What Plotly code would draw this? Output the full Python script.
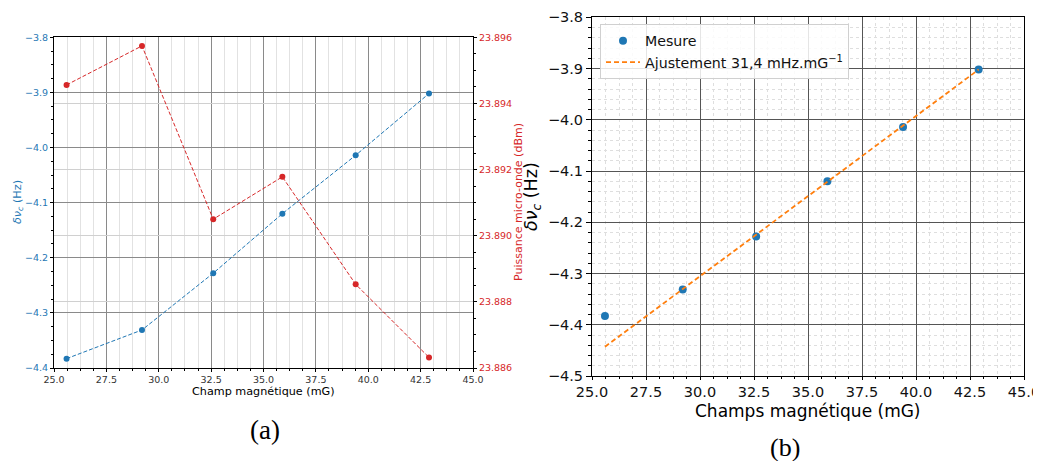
import plotly.graph_objects as go

# ---- data ----
champ = [25.6, 29.2, 32.6, 35.9, 39.4, 42.9]            # mG
delta_nu = [-4.383, -4.331, -4.228, -4.120, -4.014, -3.902]  # Hz
puissance = [23.89456, 23.89574, 23.89050, 23.89178, 23.88853, 23.88632]  # dBm
fit_x = [25.6, 42.9]
fit_y = [-4.443, -3.902]

W, H = 1041, 461
OFF = 8  # page body margin offset
def fx(px): return (px - OFF) / W
def fy(py): return 1 - (py - OFF) / H

BLUE = "#1f77b4"
RED = "#d62728"
ORANGE = "#ff7f0e"
FONT = "DejaVu Sans"

fig = go.Figure()

# left panel
fig.add_trace(go.Scatter(x=champ, y=delta_nu, mode="lines+markers",
                         line=dict(color=BLUE, width=1, dash="4px,2px"),
                         marker=dict(color=BLUE, size=6), showlegend=False,
                         xaxis="x", yaxis="y"))
fig.add_trace(go.Scatter(x=champ, y=puissance, mode="lines+markers",
                         line=dict(color=RED, width=1, dash="4px,2px"),
                         marker=dict(color=RED, size=6), showlegend=False,
                         xaxis="x", yaxis="y2"))

# right panel
fig.add_trace(go.Scatter(x=champ, y=delta_nu, mode="markers", name="Mesure",
                         marker=dict(color=BLUE, size=8),
                         xaxis="x2", yaxis="y3"))
fig.add_trace(go.Scatter(x=fit_x, y=fit_y, mode="lines",
                         name="Ajustement 31,4 mHz.mG<sup>−1</sup>",
                         line=dict(color=ORANGE, width=1.8, dash="5px,3px"),
                         xaxis="x2", yaxis="y3"))

common_left = dict(showline=True, linecolor="black", linewidth=1, zeroline=False,
                   ticks="outside", ticklen=3, tickcolor="black", automargin=False)
common_right = dict(showline=True, linecolor="black", linewidth=1, zeroline=False,
                    ticks="outside", tickcolor="black", automargin=False,
                    showgrid=True, gridcolor="#555555", gridwidth=1,
                    tickfont=dict(size=14.5, color="#111"), mirror=True)

def ann(text, x, y, size, color="black", angle=0, family=FONT):
    return dict(text=text, x=fx(x), y=fy(y), xref="paper", yref="paper",
                xanchor="center", yanchor="middle", textangle=angle,
                showarrow=False, font=dict(family=family, size=size, color=color))

fig.update_layout(
    width=W, height=H,
    margin=dict(l=0, r=0, t=0, b=0, autoexpand=False),
    paper_bgcolor="white", plot_bgcolor="white",
    font=dict(family=FONT, color="black"),
    xaxis=dict(domain=[fx(54), fx(473)], range=[25, 45], dtick=2.5, tick0=25,
               tickformat=".1f", anchor="y", mirror=True,
               showgrid=True, gridcolor="#8a8a8a", gridwidth=1,
               tickfont=dict(size=9.5, color="#333"),
               minor=dict(dtick=0.625, tick0=25, showgrid=True, gridcolor="#e2e2e2",
                          ticks="outside", ticklen=2, tickcolor="black"),
               **common_left),
    yaxis=dict(domain=[fy(368), fy(37.3)], range=[-4.4, -3.8], dtick=0.1,
               tickformat=".1f", anchor="x", mirror=True,
               showgrid=True, gridcolor="#8a8a8a", gridwidth=1,
               tickfont=dict(size=9.5, color=BLUE),
               minor=dict(dtick=0.025, ticks="outside", ticklen=2, tickcolor="black"),
               **common_left),
    yaxis2=dict(overlaying="y", side="right", anchor="x",
                range=[23.886, 23.896], dtick=0.002, tick0=23.886,
                tickformat=".3f", showgrid=True, gridcolor="#d0d0d0", gridwidth=1,
                tickfont=dict(size=9.5, color=RED),
                minor=dict(dtick=0.0005, ticks="outside", ticklen=2, tickcolor="black"),
                **common_left),
    xaxis2=dict(domain=[fx(592), fx(1024)], range=[25, 45], dtick=2.5, tick0=25,
                tickformat=".1f", anchor="y3", ticklen=3,
                minor=dict(dtick=0.625, tick0=25, showgrid=True, gridcolor="#dedede",
                           griddash="dot", ticks="outside", ticklen=2, tickcolor="black"),
                **common_right),
    yaxis3=dict(domain=[fy(376), fy(17.3)], range=[-4.5, -3.8], dtick=0.1,
                tickformat=".1f", anchor="x2", ticklen=5,
                minor=dict(dtick=0.02, showgrid=True, gridcolor="#dedede",
                           griddash="dot", ticks="outside", ticklen=3, tickcolor="black"),
                **common_right),
    legend=dict(x=fx(600), y=fy(24), xanchor="left", yanchor="top",
                bgcolor="rgba(255,255,255,0.85)", bordercolor="#d0d0d0", borderwidth=1,
                font=dict(size=14.2, color="#111"), tracegroupgap=0, itemwidth=34),
    annotations=[
        ann("Champ magnétique (mG)", 263, 391, 11.2),
        ann("<i>δν</i><sub><i>c</i></sub> (Hz)", 18, 202, 11.2, BLUE, -90),
        ann("Puissance micro-onde (dBm)", 518, 202, 11, RED, -90),
        ann("Champs magnétique (mG)", 808, 411, 17),
        ann("<i>δν</i><sub><i>c</i></sub> (Hz)", 532, 197, 17.5, "black", -90),
        ann("(a)", 265, 430, 27, family="Liberation Serif"),
        ann("(b)", 785, 447, 26, family="Liberation Serif"),
    ],
)

fig.write_html("out.html")
